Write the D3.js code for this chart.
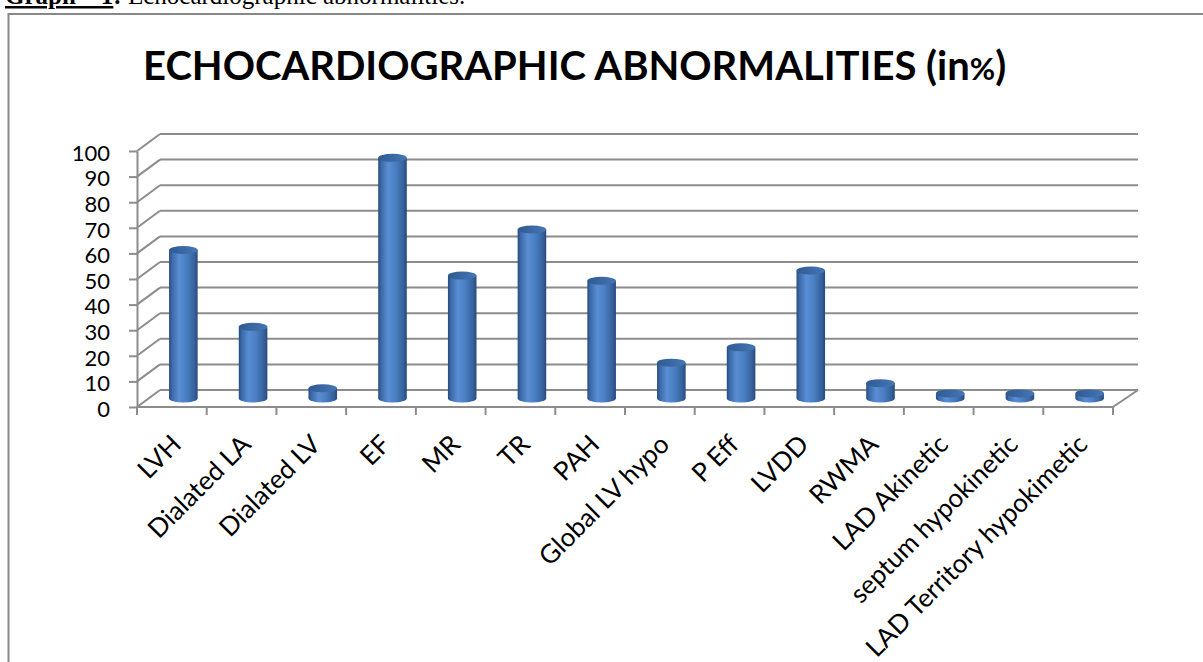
<!DOCTYPE html>
<html lang="en">
<head>
  <meta charset="utf-8">
  <title>Echocardiographic abnormalities</title>
  <script src="https://d3js.org/d3.v7.min.js"></script>
  <style>
    html, body {
      margin: 0;
      padding: 0;
      width: 100%;
      height: 100%;
      background: #fff;
      overflow: hidden;
    }
    svg {
      display: block;
    }
    .grid line, .grid path {
      stroke: #8c8c8c;
      stroke-width: 2px;
      fill: none;
    }
    .tick-label {
      font-family: Lato, "Open Sans", sans-serif;
      fill: #000;
    }
  </style>
</head>
<body>
  <svg></svg>
  <script>
    // Data
    const categories = ["LVH", "Dialated LA", "Dialated LV", "EF", "MR", "TR", "PAH",
      "Global LV hypo", "P Eff", "LVDD", "RWMA", "LAD Akinetic", "septum hypokinetic",
      "LAD Territory hypokimetic"];
    const values = [58, 28, 4, 94, 48, 66, 46, 14, 20, 50, 6, 2, 2, 2];
    const yTicks = [0, 10, 20, 30, 40, 50, 60, 70, 80, 90, 100];
    const chartTitle = "ECHOCARDIOGRAPHIC ABNORMALITIES (in";

    const width = 1203, height = 662;
    const svg = d3.select("svg").attr("width", width).attr("height", height);

    // 3D depth offset of the back wall
    const DX = 23, DY = -17;

    const x = d3.scaleBand().domain(categories).range([137, 1113]).padding(0);
    const y = d3.scaleLinear().domain([0, 100]).range([407, 151]);
    const bw = x.bandwidth();

    // header line from the document (cut at top)
    const head = svg.append("text")
      .attr("x", 5).attr("y", 4)
      .style("font-family", "'Liberation Serif', 'Times New Roman', serif")
      .style("font-size", "25px");
    head.append("tspan").style("font-weight", "bold").style("text-decoration", "underline").text("Graph – 1");
    head.append("tspan").style("font-weight", "bold").text(": ");
    head.append("tspan").text("Echocardiographic abnormalities.");

    // chart frame (runs off the right and bottom edge)
    svg.append("rect")
      .attr("x", 8.5).attr("y", 14)
      .attr("width", 1300).attr("height", 800)
      .attr("fill", "none")
      .attr("stroke", "#888").attr("stroke-width", 2);

    // title
    const title = svg.append("text")
      .attr("x", 143).attr("y", 80)
      .style("font-family", "Lato, 'Open Sans', sans-serif")
      .style("font-weight", "bold")
      .style("font-size", "40px");
    title.append("tspan").text(chartTitle);
    title.append("tspan").style("font-size", "31px").text("%");
    title.append("tspan").text(")");

    // back wall gridlines + diagonals
    const grid = svg.append("g").attr("class", "grid");
    grid.selectAll(".back")
      .data(yTicks)
      .join("line")
      .attr("class", "back")
      .attr("x1", 137 + DX).attr("x2", 1113 + DX + 2)
      .attr("y1", d => y(d) + DY).attr("y2", d => y(d) + DY);
    grid.selectAll(".diag")
      .data(yTicks)
      .join("line")
      .attr("class", "diag")
      .attr("x1", 137).attr("x2", 137 + DX)
      .attr("y1", d => y(d)).attr("y2", d => y(d) + DY);

    // floor front edge and right side
    grid.append("line")
      .attr("x1", 137).attr("x2", 1113)
      .attr("y1", y(0)).attr("y2", y(0));
    grid.append("line")
      .attr("x1", 1113).attr("x2", 1113 + DX + 2)
      .attr("y1", y(0)).attr("y2", y(0) + DY);

    // category ticks at band edges
    const edges = categories.map(c => x(c)).concat([x.range()[1]]);
    grid.selectAll(".xtick")
      .data(edges)
      .join("line")
      .attr("class", "xtick")
      .attr("x1", d => d).attr("x2", d => d)
      .attr("y1", y(0)).attr("y2", y(0) + 8);

    // y axis
    const yAxis = svg.append("g")
      .attr("class", "grid")
      .attr("transform", "translate(137,0)")
      .call(d3.axisLeft(y).tickValues(yTicks).tickSize(8).tickSizeOuter(0).tickPadding(19));
    yAxis.selectAll("text")
      .attr("class", "tick-label")
      .attr("dy", "0.42em")
      .style("font-size", "22px")
      .style("stroke", "none");

    // gradients for the cylinders
    const defs = svg.append("defs");
    const bodyGrad = defs.append("linearGradient").attr("id", "cylBody")
      .attr("x1", 0).attr("x2", 1).attr("y1", 0).attr("y2", 0);
    [[0, "#274b7c"], [0.1, "#3a69a8"], [0.35, "#5a8ed4"], [0.6, "#4b7fc3"], [0.88, "#35629e"], [1, "#284a7a"]]
      .forEach(s => bodyGrad.append("stop").attr("offset", s[0]).attr("stop-color", s[1]));
    const capGrad = defs.append("linearGradient").attr("id", "cylTop")
      .attr("x1", 0).attr("x2", 1).attr("y1", 0).attr("y2", 0);
    [[0, "#2f5a92"], [1, "#4676b6"]]
      .forEach(s => capGrad.append("stop").attr("offset", s[0]).attr("stop-color", s[1]));

    const rx = bw * 0.205, ry = 4;
    const data = categories.map((c, i) => ({ cat: c, val: values[i] }));
    const bars = svg.append("g").selectAll("g")
      .data(data)
      .join("g");

    bars.append("path")
      .attr("fill", "url(#cylBody)")
      .attr("d", d => {
        const cx = x(d.cat) + bw / 2 + DX / 2;
        const yb = y(0) + DY / 2, yt = y(d.val) + DY / 2;
        return `M${cx - rx},${yt} L${cx - rx},${yb} A${rx},${ry} 0 0 0 ${cx + rx},${yb} L${cx + rx},${yt} Z`;
      });
    bars.append("ellipse")
      .attr("fill", "url(#cylTop)")
      .attr("cx", d => x(d.cat) + bw / 2 + DX / 2)
      .attr("cy", d => y(d.val) + DY / 2)
      .attr("rx", rx).attr("ry", ry);

    // rotated category labels
    svg.append("g").selectAll("text")
      .data(categories)
      .join("text")
      .attr("class", "tick-label")
      .attr("text-anchor", "end")
      .style("font-size", "26px")
      .attr("transform", d => `translate(${x(d) + bw / 2 + 11},${446}) rotate(-45)`)
      .text(d => d);
  </script>
</body>
</html>
